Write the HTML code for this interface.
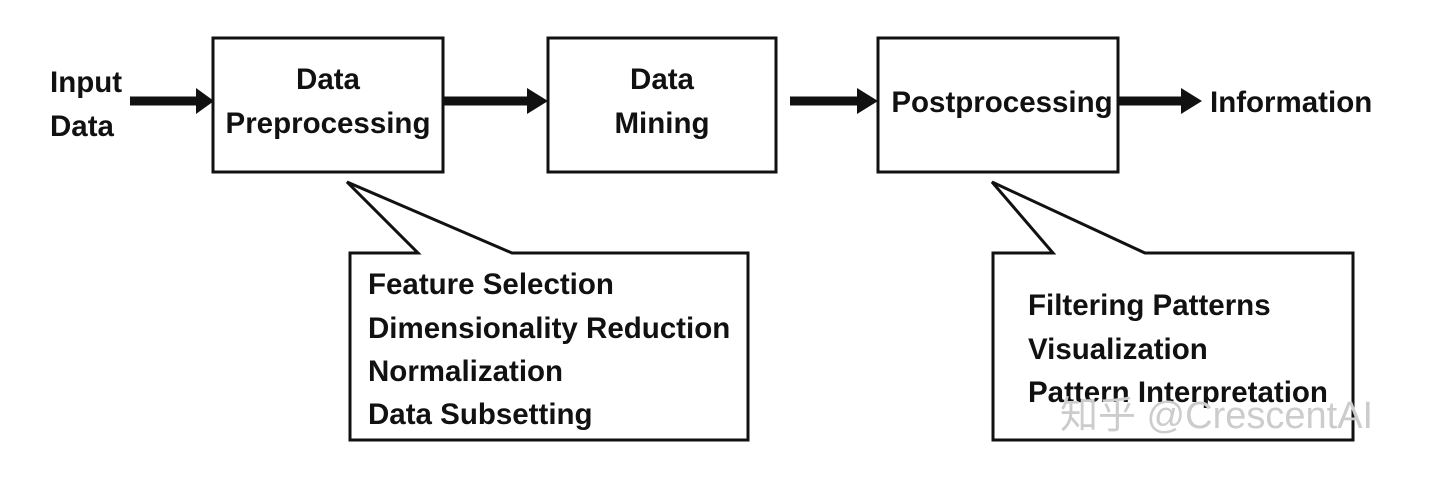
<!DOCTYPE html>
<html><head><style>
html,body{margin:0;padding:0;background:#fff;}
svg text{font-family:"Liberation Sans",Arial,sans-serif;font-weight:bold;fill:#111;}
</style></head><body>
<svg width="1449" height="473" viewBox="0 0 1449 473" xmlns="http://www.w3.org/2000/svg">
<g stroke="#111" stroke-width="3" fill="none">
<rect x="213" y="38" width="230" height="134"/>
<rect x="548" y="38" width="228" height="134"/>
<rect x="878" y="38" width="240" height="134"/>
<polygon points="350,253 418,253 347,182 512,253 748,253 748,440 350,440" fill="#fff"/>
<polygon points="993,253 1053,253 992,182 1145,253 1353,253 1353,440 993,440" fill="#fff"/>
</g>
<g stroke="#111" stroke-width="9">
<line x1="130" y1="101" x2="200" y2="101"/>
<line x1="443" y1="101" x2="530" y2="101"/>
<line x1="790" y1="101" x2="860" y2="101"/>
<line x1="1118" y1="101" x2="1185" y2="101"/>
</g>
<g fill="#111">
<polygon points="196,88 214,101 196,114"/>
<polygon points="527,88 548,101 527,114"/>
<polygon points="857,88 878,101 857,114"/>
<polygon points="1181,88 1202,101 1181,114"/>
</g>
<g font-size="29.5">
<text x="50" y="92">Input</text>
<text x="50" y="136">Data</text>
<text x="328" y="89" text-anchor="middle">Data</text>
<text x="328" y="133" text-anchor="middle">Preprocessing</text>
<text x="662" y="89" text-anchor="middle">Data</text>
<text x="662" y="133" text-anchor="middle">Mining</text>
<text x="1002" y="112" text-anchor="middle">Postprocessing</text>
<text x="1210" y="112">Information</text>
<text x="368" y="294">Feature Selection</text>
<text x="368" y="338">Dimensionality Reduction</text>
<text x="368" y="381">Normalization</text>
<text x="368" y="424">Data Subsetting</text>
<text x="1028" y="315">Filtering Patterns</text>
<text x="1028" y="359">Visualization</text>
<text x="1028" y="402">Pattern Interpretation</text>
</g>
<text x="1060" y="428" font-size="38" style="fill:#ccc;font-weight:normal;font-family:'Liberation Sans','Noto Sans CJK SC',sans-serif">知乎 @CrescentAI</text>
</svg>
</body></html>
